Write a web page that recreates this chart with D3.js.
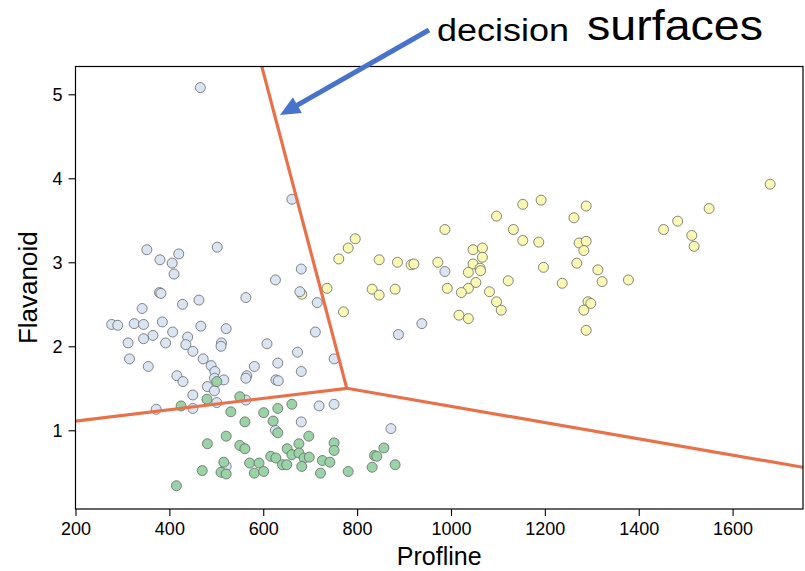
<!DOCTYPE html>
<html>
<head>
<meta charset="utf-8">
<script src="https://cdn.jsdelivr.net/npm/d3@7"></script>
<style>
  html, body { margin: 0; padding: 0; background: #fff; }
  svg { display: block; font-family: "Liberation Sans", Arial, Helvetica, sans-serif; }
</style>
</head>
<body>
<svg id="chart" width="805" height="571"></svg>
<script>
// Wine samples: [Proline, Flavanoids] per cultivar class
const class0 = [
  [682,2.62],[796,3.28],[781,3.17],[761,3.04],[736,2.69],[771,2.41],[847,3.03],[886,3.00],
  [915,2.97],[921,2.98],[972,3.00],[987,3.39],[832,2.68],[847,2.61],[881,2.68],[992,2.69],
  [1097,3.55],[1153,3.69],[1192,3.74],[1133,3.39],[1153,3.26],[1187,3.24],[1047,3.15],[1067,3.17],
  [1067,3.06],[1047,2.98],[1037,2.88],[1062,2.93],[1063,2.90],[1053,2.76],[1037,2.69],[1022,2.64],
  [1122,2.78],[1082,2.65],[1097,2.53],[1107,2.43],[1017,2.37],[1037,2.33],[1197,2.94],[1237,2.75],
  [1262,3.53],[1288,3.67],[1273,3.23],[1288,3.25],[1283,3.14],[1268,2.99],[1313,2.91],[1322,2.77],
  [1292,2.53],[1298,2.51],[1283,2.43],[1288,2.19],[1680,3.93],[1550,3.64],[1483,3.49],[1453,3.39],
  [1513,3.32],[1518,3.19],[1378,2.79]
];
const class1 = [
  [352,3.15],[380,3.03],[406,2.99],[420,3.10],[410,2.86],[502,3.18],[379,2.64],[382,2.63],
  [463,2.55],[428,2.50],[563,2.58],[342,2.45],[277,2.26],[290,2.25],[325,2.27],[345,2.26],
  [385,2.29],[467,2.24],[521,2.21],[365,2.13],[345,2.09],[407,2.17],[439,2.11],[312,2.04],
  [392,2.04],[435,2.02],[450,1.94],[511,2.04],[510,2.00],[315,1.85],[472,1.85],[661,3.75],
  [681,2.92],[626,2.79],[678,2.65],[715,2.52],[711,2.17],[608,2.03],[673,1.93],[751,1.85],
  [938,2.27],[888,2.14],[987,2.89],[355,1.76],[489,1.77],[497,1.70],[581,1.76],[631,1.80],
  [416,1.65],[429,1.58],[496,1.62],[516,1.60],[565,1.65],[563,1.62],[627,1.60],[632,1.59],
  [681,1.70],[481,1.52],[496,1.47],[450,1.42],[501,1.33],[563,1.36],[372,1.25],[450,1.26],
  [719,1.29],[751,1.31],[681,1.10],[626,1.00],[872,1.02],[521,0.57],[466,5.08]
];
const class2 = [
  [501,1.58],[425,1.29],[480,1.37],[550,1.40],[531,1.22],[561,1.10],[601,1.21],[631,1.26],
  [661,1.31],[621,1.11],[631,0.97],[521,0.93],[481,0.84],[550,0.82],[561,0.78],[651,0.78],
  [676,0.84],[697,0.93],[751,0.85],[751,0.76],[616,0.69],[627,0.67],[661,0.71],[676,0.73],
  [687,0.67],[698,0.68],[641,0.59],[650,0.59],[682,0.57],[571,0.61],[591,0.61],[581,0.49],
  [601,0.51],[516,0.62],[510,0.50],[521,0.48],[470,0.52],[726,0.64],[742,0.62],[722,0.49],
  [781,0.51],[832,0.56],[837,0.70],[842,0.69],[857,0.79],[881,0.59],[415,0.34]
];
const classColors = ["#fbf8b4", "#dae5f4", "#99d3a6"];

// Decision boundaries: three rays meeting at one vertex
const vertex = [778, 1.50];
const rayEnds = [[597, 5.33], [200, 1.11], [1750, 0.56]];

const xTicks = [200, 400, 600, 800, 1000, 1200, 1400, 1600];
const yTicks = [1, 2, 3, 4, 5];
const xTitle = "Profline";
const yTitle = "Flavanoid";
const noteWords = ["decision", "surfaces"];

const svg = d3.select("#chart");
const plotLeft = 75.5, plotRight = 803, plotTop = 66.5, plotBottom = 509;

const x = d3.scaleLinear().domain([200, 1750]).range([plotLeft, plotRight]);
const y = d3.scaleLinear().domain([0.063, 5.331]).range([plotBottom, plotTop]);

svg.append("defs").append("clipPath").attr("id", "plotClip")
  .append("rect").attr("x", plotLeft).attr("y", plotTop)
  .attr("width", plotRight - plotLeft).attr("height", plotBottom - plotTop);

// Scatter points, class by class
const pts = svg.append("g").attr("clip-path", "url(#plotClip)");
[class0, class1, class2].forEach((data, i) => {
  pts.selectAll(null).data(data).enter().append("circle")
    .attr("cx", d => x(d[0]))
    .attr("cy", d => y(d[1]))
    .attr("r", 5)
    .attr("fill", classColors[i])
    .attr("stroke", "#666")
    .attr("stroke-width", 0.8);
});

// Decision surfaces
const lines = svg.append("g").attr("clip-path", "url(#plotClip)");
rayEnds.forEach(e => {
  lines.append("line")
    .attr("x1", x(vertex[0])).attr("y1", y(vertex[1]))
    .attr("x2", x(e[0])).attr("y2", y(e[1]))
    .attr("stroke", "#e8714a")
    .attr("stroke-width", 3.2)
    .attr("stroke-linecap", "round");
});

// Axes
const xAxis = svg.append("g").attr("transform", `translate(0,${plotBottom})`)
  .call(d3.axisBottom(x).tickValues(xTicks).tickFormat(d3.format("d")).tickSize(7).tickPadding(6));
const yAxis = svg.append("g").attr("transform", `translate(${plotLeft},0)`)
  .call(d3.axisLeft(y).tickValues(yTicks).tickFormat(d3.format("d")).tickSize(7).tickPadding(6));
[xAxis, yAxis].forEach(a => {
  a.select(".domain").remove();
  a.selectAll(".tick line").attr("stroke", "#000").attr("stroke-width", 1.1);
  a.selectAll(".tick text").attr("font-size", 18).attr("fill", "#000")
    .attr("font-family", "'Liberation Sans', Arial, sans-serif");
});

// Frame
svg.append("rect")
  .attr("x", plotLeft).attr("y", plotTop)
  .attr("width", plotRight - plotLeft).attr("height", plotBottom - plotTop)
  .attr("fill", "none").attr("stroke", "#000").attr("stroke-width", 1.2);

// Axis titles
svg.append("text")
  .attr("x", (plotLeft + plotRight) / 2).attr("y", 565)
  .attr("text-anchor", "middle").attr("font-size", 25).attr("fill", "#000")
  .text(xTitle);
svg.append("text")
  .attr("transform", `translate(37,${(plotTop + plotBottom) / 2}) rotate(-90)`)
  .attr("text-anchor", "middle").attr("font-size", 26).attr("fill", "#000")
  .text(yTitle);

// Annotation arrow and note
const tip = [280, 115], tail = [429, 30];
const dx = tip[0] - tail[0], dy = tip[1] - tail[1];
const len = Math.hypot(dx, dy), ux = dx / len, uy = dy / len;
const headLen = 20, headHalf = 9;
const base = [tip[0] - ux * headLen, tip[1] - uy * headLen];
svg.append("line")
  .attr("x1", tail[0]).attr("y1", tail[1])
  .attr("x2", base[0] + ux * 2).attr("y2", base[1] + uy * 2)
  .attr("stroke", "#4873cc").attr("stroke-width", 5);
svg.append("polygon")
  .attr("points", [
    tip,
    [base[0] - uy * headHalf, base[1] + ux * headHalf],
    [base[0] + uy * headHalf, base[1] - ux * headHalf]
  ].map(p => p.join(",")).join(" "))
  .attr("fill", "#4873cc");

svg.append("text")
  .attr("x", 437).attr("y", 41)
  .attr("font-size", 31).attr("fill", "#000")
  .attr("textLength", 132).attr("lengthAdjust", "spacingAndGlyphs")
  .text(noteWords[0]);
svg.append("text")
  .attr("x", 587).attr("y", 40)
  .attr("font-size", 43).attr("fill", "#000")
  .attr("textLength", 176).attr("lengthAdjust", "spacingAndGlyphs")
  .text(noteWords[1]);
</script>
</body>
</html>
